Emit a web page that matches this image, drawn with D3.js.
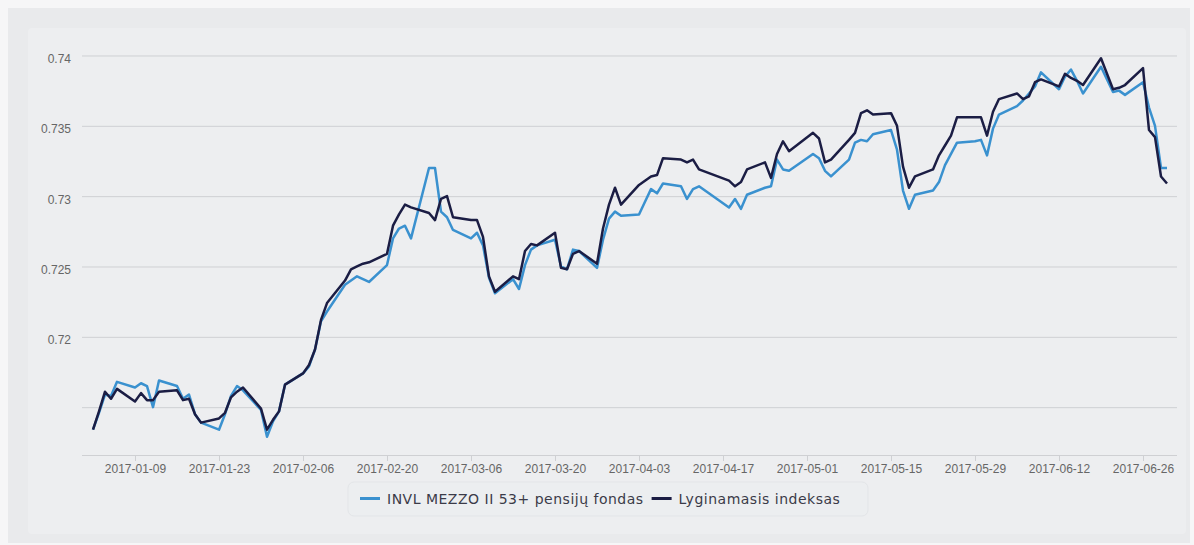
<!doctype html>
<html lang="lt">
<head>
<meta charset="utf-8">
<title>INVL MEZZO II 53+</title>
<style>
  html, body { margin: 0; padding: 0; background: #f6f6f7; }
  #chart { position: absolute; left: 0; top: 0; width: 1194px; height: 545px; }
  .tick text { font-family: "Liberation Sans", Arial, sans-serif; font-size: 12px; fill: #666; }
</style>
</head>
<body>
<div id="chart"></div>
<script src="https://cdn.jsdelivr.net/npm/d3@7"></script>
<script>
// trading days (Good Friday, Easter Monday and 1 May are missing)
const dates = [
  "2017-01-02","2017-01-03","2017-01-04","2017-01-05","2017-01-06",
  "2017-01-09","2017-01-10","2017-01-11","2017-01-12","2017-01-13",
  "2017-01-16","2017-01-17","2017-01-18","2017-01-19","2017-01-20",
  "2017-01-23","2017-01-24","2017-01-25","2017-01-26","2017-01-27",
  "2017-01-30","2017-01-31","2017-02-01","2017-02-02","2017-02-03",
  "2017-02-06","2017-02-07","2017-02-08","2017-02-09","2017-02-10",
  "2017-02-13","2017-02-14","2017-02-15","2017-02-16","2017-02-17",
  "2017-02-20","2017-02-21","2017-02-22","2017-02-23","2017-02-24",
  "2017-02-27","2017-02-28","2017-03-01","2017-03-02","2017-03-03",
  "2017-03-06","2017-03-07","2017-03-08","2017-03-09","2017-03-10",
  "2017-03-13","2017-03-14","2017-03-15","2017-03-16","2017-03-17",
  "2017-03-20","2017-03-21","2017-03-22","2017-03-23","2017-03-24",
  "2017-03-27","2017-03-28","2017-03-29","2017-03-30","2017-03-31",
  "2017-04-03","2017-04-04","2017-04-05","2017-04-06","2017-04-07",
  "2017-04-10","2017-04-11","2017-04-12","2017-04-13",
  "2017-04-18","2017-04-19","2017-04-20","2017-04-21",
  "2017-04-24","2017-04-25","2017-04-26","2017-04-27","2017-04-28",
  "2017-05-02","2017-05-03","2017-05-04","2017-05-05",
  "2017-05-08","2017-05-09","2017-05-10","2017-05-11","2017-05-12",
  "2017-05-15","2017-05-16","2017-05-17","2017-05-18","2017-05-19",
  "2017-05-22","2017-05-23","2017-05-24","2017-05-25","2017-05-26",
  "2017-05-29","2017-05-30","2017-05-31","2017-06-01","2017-06-02",
  "2017-06-05","2017-06-06","2017-06-07","2017-06-08","2017-06-09",
  "2017-06-12","2017-06-13","2017-06-14","2017-06-15","2017-06-16",
  "2017-06-19","2017-06-20","2017-06-21","2017-06-22","2017-06-23",
  "2017-06-26","2017-06-27","2017-06-28","2017-06-29","2017-06-30"
];

// INVL MEZZO II 53+ pensiju fondas (light blue)
const fundValues = [
  0.7134, 0.7146, 0.7159, 0.7158, 0.7168,
  0.7164, 0.7167, 0.7165, 0.7150, 0.7169,
  0.7165, 0.7156, 0.7159, 0.7145, 0.7139,
  0.7134, 0.7145, 0.7158, 0.7165, 0.7162,
  0.7148, 0.7129, 0.7140, 0.7147, 0.7166,
  0.7174, 0.7179, 0.7191, 0.7211, 0.7218,
  0.7237, 0.7240, 0.7243, 0.7241, 0.7239,
  0.7251, 0.7270, 0.7277, 0.7279, 0.7270,
  0.7320, 0.7320, 0.7289, 0.7285, 0.7276,
  0.7270, 0.7274, 0.7265, 0.7242, 0.7231,
  0.7241, 0.7234, 0.7251, 0.7262, 0.7265,
  0.7269, 0.7250, 0.7248, 0.7262, 0.7261,
  0.7249, 0.7269, 0.7284, 0.7289, 0.7286,
  0.7287, 0.7296, 0.7305, 0.7302, 0.7309,
  0.7307, 0.7298, 0.7305, 0.7307,
  0.7292, 0.7298, 0.7291, 0.7301,
  0.7306, 0.7307, 0.7326, 0.7319, 0.7318,
  0.7330, 0.7327, 0.7318, 0.7314,
  0.7326, 0.7338, 0.7340, 0.7339, 0.7344,
  0.7347, 0.7333, 0.7304, 0.7291, 0.7301,
  0.7304, 0.7310, 0.7322, 0.7330, 0.7338,
  0.7339, 0.7340, 0.7329, 0.7348, 0.7358,
  0.7364, 0.7368, 0.7373, 0.7378, 0.7388,
  0.7376, 0.7385, 0.7390, 0.7382, 0.7373,
  0.7392, 0.7383, 0.7374, 0.7375, 0.7372,
  0.7381, 0.7363, 0.7350, 0.7320, 0.7320
];

// Lyginamasis indeksas (dark navy)
const indexValues = [
  0.7134, 0.7147, 0.7161, 0.7156, 0.7163,
  0.7154, 0.7160, 0.7155, 0.7155, 0.7161,
  0.7162, 0.7155, 0.7156, 0.7145, 0.7139,
  0.7142, 0.7146, 0.7157, 0.7161, 0.7164,
  0.7149, 0.7134, 0.7141, 0.7147, 0.7166,
  0.7174, 0.7180, 0.7191, 0.7212, 0.7224,
  0.7240, 0.7248, 0.7250, 0.7252, 0.7253,
  0.7259, 0.7279, 0.7287, 0.7294, 0.7292,
  0.7288, 0.7283, 0.7298, 0.7300, 0.7285,
  0.7283, 0.7283, 0.7271, 0.7243, 0.7232,
  0.7243, 0.7241, 0.7261, 0.7266, 0.7265,
  0.7274, 0.7249, 0.7248, 0.7259, 0.7261,
  0.7252, 0.7277, 0.7294, 0.7306, 0.7294,
  0.7308, 0.7311, 0.7314, 0.7315, 0.7327,
  0.7326, 0.7324, 0.7326, 0.7319,
  0.7311, 0.7307, 0.7310, 0.7319,
  0.7324, 0.7313, 0.7330, 0.7339, 0.7332,
  0.7345, 0.7341, 0.7324, 0.7326,
  0.7340, 0.7345, 0.7359, 0.7361, 0.7358,
  0.7359, 0.7350, 0.7321, 0.7306, 0.7314,
  0.7319, 0.7329, 0.7336, 0.7343, 0.7356,
  0.7356, 0.7356, 0.7343, 0.7360, 0.7369,
  0.7373, 0.7369, 0.7371, 0.7381, 0.7383,
  0.7378, 0.7387, 0.7384, 0.7382, 0.7379,
  0.7398, 0.7387, 0.7376, 0.7377, 0.7379,
  0.7391, 0.7347, 0.7342, 0.7314, 0.7309
];

const seriesNames = ["INVL MEZZO II 53+ pensijų fondas", "Lyginamasis indeksas"];
const seriesColors = ["#3a91cf", "#1b1d44"];

// y grid lines and which of them get a label
const yGrid = [0.715, 0.72, 0.725, 0.73, 0.735, 0.74];
const yLabels = ["0.72", "0.725", "0.73", "0.735", "0.74"];

// x ticks, every second Monday
const xTicks = ["2017-01-09","2017-01-23","2017-02-06","2017-02-20","2017-03-06","2017-03-20",
  "2017-04-03","2017-04-17","2017-05-01","2017-05-15","2017-05-29","2017-06-12","2017-06-26"];

const W = 1194, H = 545;
const plot = {left: 82, right: 1177, top: 40, bottom: 455};
const parse = d3.timeParse("%Y-%m-%d");

const svg = d3.select("#chart").append("svg")
  .attr("width", W)
  .attr("height", H);

// backgrounds
svg.append("rect").attr("x", 8).attr("y", 8).attr("width", W - 12).attr("height", H - 10).attr("fill", "#e9eaec");
svg.append("rect").attr("x", 28).attr("y", 28).attr("width", 1158).attr("height", 506).attr("rx", 4).attr("fill", "#edeef0");

const x = d3.scaleTime()
  .domain([new Date(2016, 11, 31, 4), new Date(2017, 6, 1, 16)])
  .range([plot.left, plot.right]);

const y = d3.scaleLinear()
  .domain([0.7116, 0.7411])
  .range([plot.bottom, plot.top]);

// grid + y labels
const yAxis = svg.append("g")
  .attr("transform", "translate(" + plot.left + ",0)")
  .call(d3.axisLeft(y)
    .tickValues(yGrid)
    .tickSize(-(plot.right - plot.left))
    .tickPadding(11)
    .tickFormat(d => yLabels.includes(String(d)) ? String(d) : ""));
yAxis.select(".domain").remove();
yAxis.selectAll(".tick line").attr("stroke", "#cfd0d3").attr("stroke-width", 1);
yAxis.selectAll(".tick text").attr("dy", "0.75em").attr("y", -2);

// x axis
const xAxis = svg.append("g")
  .attr("transform", "translate(0," + plot.bottom + ")")
  .call(d3.axisBottom(x)
    .tickValues(xTicks.map(parse))
    .tickSize(6)
    .tickPadding(3)
    .tickFormat(d3.timeFormat("%Y-%m-%d")));
xAxis.select(".domain").attr("stroke", "#cfd0d3").attr("d", "M" + plot.left + ",0.5H" + plot.right);
xAxis.selectAll(".tick line").attr("stroke", "#cfd0d3");
xAxis.selectAll(".tick text").attr("font-size", 12);

// lines
const rows = dates.map((d, i) => ({date: parse(d), fund: fundValues[i], index: indexValues[i]}));

const line = key => d3.line()
  .x(d => x(d.date))
  .y(d => y(d[key]));

svg.append("path")
  .datum(rows)
  .attr("fill", "none")
  .attr("stroke", seriesColors[0])
  .attr("stroke-width", 2.5)
  .attr("stroke-linejoin", "round")
  .attr("d", line("fund"));

svg.append("path")
  .datum(rows)
  .attr("fill", "none")
  .attr("stroke", seriesColors[1])
  .attr("stroke-width", 2.5)
  .attr("stroke-linejoin", "round")
  .attr("d", line("index"));

// legend
const legend = svg.append("g").attr("transform", "translate(348,482)");
legend.append("rect")
  .attr("width", 520).attr("height", 34).attr("rx", 6)
  .attr("fill", "#eceef0").attr("stroke", "#e3e5e8");

let lx = 12;
seriesNames.forEach((name, i) => {
  legend.append("line")
    .attr("x1", lx).attr("x2", lx + 20)
    .attr("y1", 16.5).attr("y2", 16.5)
    .attr("stroke", seriesColors[i]).attr("stroke-width", 3);
  const t = legend.append("text")
    .attr("x", lx + 27).attr("y", 22)
    .attr("font-family", "'DejaVu Sans', Verdana, sans-serif")
    .attr("font-size", 14)
    .attr("letter-spacing", "0.5px")
    .attr("fill", "#3b3b48")
    .text(name);
  lx += 27 + t.node().getComputedTextLength() + 8;
});
</script>
</body>
</html>
